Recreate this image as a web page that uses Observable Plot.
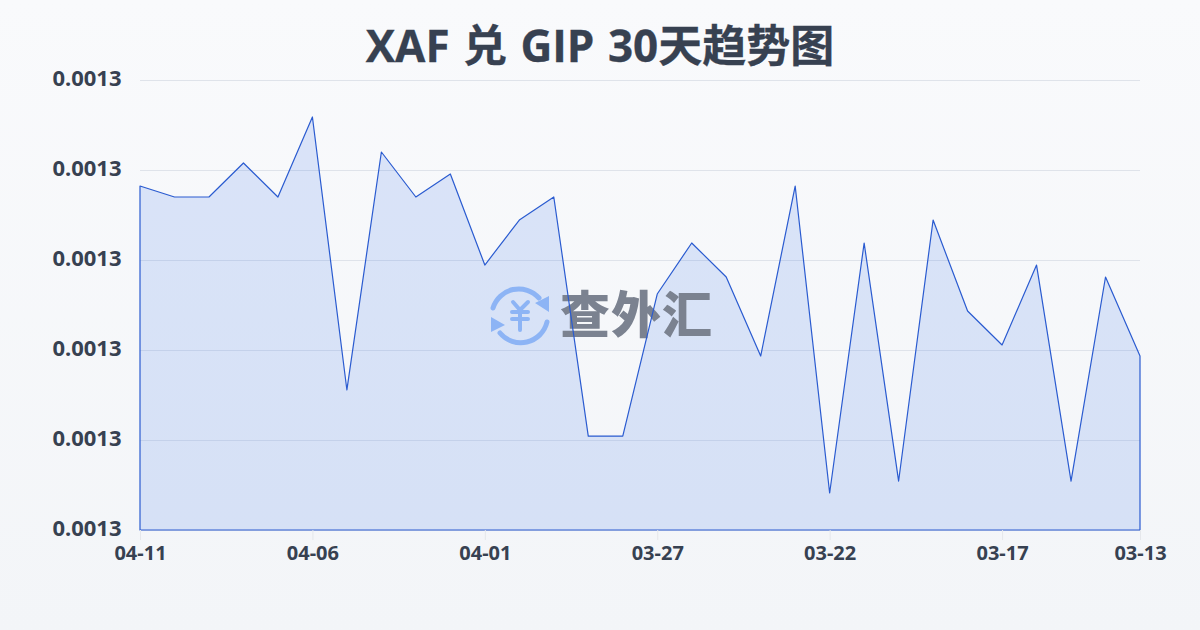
<!DOCTYPE html>
<html><head><meta charset="utf-8">
<script src="https://cdn.jsdelivr.net/npm/d3@7"></script>
<script src="https://cdn.jsdelivr.net/npm/@observablehq/plot@0.6"></script>
<style>
html,body{margin:0;padding:0;width:1200px;height:630px;overflow:hidden;}
body{background:linear-gradient(180deg,#f9fafc 0%,#f3f5f8 100%);font-family:"Noto Sans","Noto Sans CJK SC",sans-serif;}
#title{height:50px;line-height:90px;text-align:center;font-family:"Open Sans","Noto Sans CJK SC",sans-serif;font-size:44px;font-weight:700;word-spacing:2px;color:#374151;white-space:nowrap;-webkit-text-stroke:0.3px #374151;}
#chart svg.plot{display:block;background:transparent;}
</style></head><body>
<div id="title">XAF 兑 GIP 30天趋势图</div>
<div id="chart"></div>
<script>
const dates = ["04-11","04-10","04-09","04-08","04-07","04-06","04-05","04-04","04-03","04-02","04-01","03-31","03-30","03-29","03-28","03-27","03-26","03-25","03-24","03-23","03-22","03-21","03-20","03-19","03-18","03-17","03-16","03-15","03-14","03-13"];
const rates = [0.00129822,0.001297,0.001297,0.00130078,0.001297,0.00130589,0.00127556,0.001302,0.001297,0.00129956,0.00128944,0.00129444,0.001297,0.00127044,0.00127044,0.00128622,0.00129189,0.00128811,0.00127933,0.00129822,0.00126411,0.00129189,0.00126544,0.00129444,0.00128433,0.00128056,0.00128944,0.00126544,0.00128811,0.00127933];
const xTicks = ["04-11","04-06","04-01","03-27","03-22","03-17","03-13"];
const yTicks = [0.00126,0.00127,0.00128,0.00129,0.0013,0.00131];
const yFloor = 0.00126;
const watermarkText = "查外汇";
const table = dates.map((d,i)=>({date:d,rate:rates[i]}));
const font = '"Noto Sans","Noto Sans CJK SC",sans-serif';
function watermark(){
  const g = d3.create("svg:g").attr("transform","translate(488,234)");
  const s = g.append("g").attr("fill","none").attr("stroke","#8db4f5").attr("stroke-width",5).attr("stroke-linecap","round");
  s.append("path").attr("d","M5 24A27 27 0 0 1 51 14");
  s.append("path").attr("d","M59 38A27 27 0 0 1 12 49");
  s.append("path").attr("stroke-width",4).attr("d","M25 18L32 26L40 18M32 26V46M24 28H40M24 35H40");
  g.append("path").attr("fill","#8db4f5").attr("d","M61 12V28L47 19Z M3 33V48L17 41Z");
  g.append("text").text(watermarkText).attr("x",72).attr("y",49).attr("text-anchor","start")
    .attr("font-family",'"Noto Sans CJK SC",sans-serif').attr("font-weight",900).attr("font-size",50).attr("letter-spacing",1).attr("fill","#7b8290");
  return g.node();
}
const plot = Plot.plot({
  width:1200,height:580,marginTop:30,marginBottom:100,marginLeft:140,marginRight:60,
  style:{background:"transparent",fontFamily:font},
  x:{type:"point",domain:dates,padding:0,round:false,label:null},
  y:{domain:[yFloor,0.00131],label:null},
  marks:[
    Plot.gridY(yTicks,{stroke:"#dfe3ea",strokeOpacity:1,strokeWidth:1}),
    Plot.areaY(table,{x:"date",y1:yFloor,y2:"rate",fill:"#2563eb",fillOpacity:0.14}),
    watermark,
    Plot.areaY(table,{x:"date",y1:yFloor,y2:"rate",fill:"none",stroke:"#2a5bd0",strokeWidth:1.2}),
    Plot.axisY(yTicks,{tickSize:0,tickPadding:19,tickFormat:d=>d.toFixed(4),fontSize:22,fontWeight:700,fill:"#374151",dy:-2,label:null}),
    Plot.axisX(xTicks,{tickSize:10,tickPadding:5,stroke:"#e5e7eb",fontSize:20,fontWeight:700,fill:"#374151",label:null})
  ]
});
document.getElementById("chart").appendChild(plot);
</script>
</body></html>
